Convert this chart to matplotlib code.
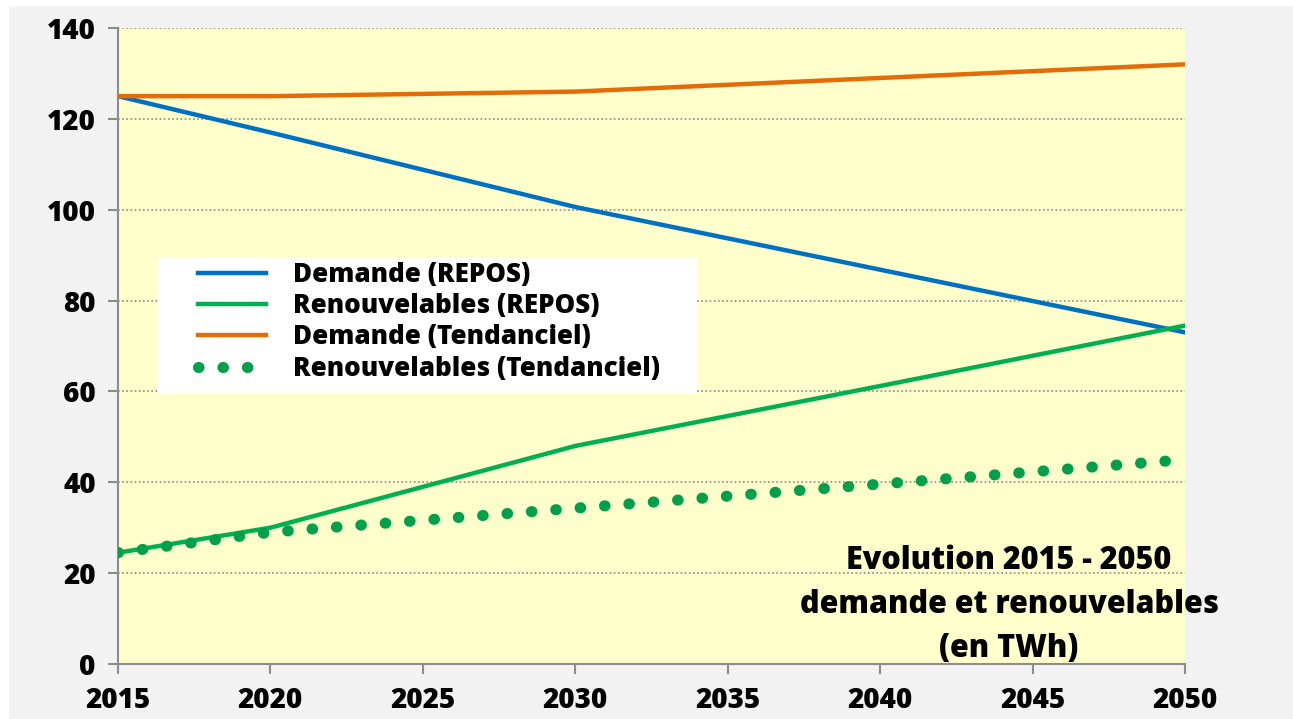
import matplotlib.pyplot as plt
from matplotlib.patches import Rectangle

# Données (TWh)
annees = [2015, 2020, 2030, 2040, 2050]
demande_repos = [125, 117, 100.6, 86.8, 73]
renouv_repos = [24.5, 30, 48, 61.2, 74.5]
demande_tend = [125, 125, 126, 129, 132]
renouv_tend = [24.5, 29, 34.3, 39.6, 45]

labels = ["Demande (REPOS)", "Renouvelables (REPOS)",
          "Demande (Tendanciel)", "Renouvelables (Tendanciel)"]

plt.rcParams['font.family'] = ['Open Sans', 'DejaVu Sans']
W = 800  # graisse du texte

fig = plt.figure(figsize=(12.93, 7.19), dpi=100)
fig.patch.set_facecolor("white")
fig.patches.append(Rectangle((9 / 1293, 0), 1, 713 / 719, transform=fig.transFigure,
                             facecolor="#F2F2F2", edgecolor="none", zorder=-10))

ax = fig.add_axes([118 / 1293, 55 / 719, 1067 / 1293, 636 / 719])
ax.set_facecolor("#FFFFCC")

ax.plot(annees, demande_repos, color="#0070C0", lw=3.2, label=labels[0], zorder=3)
ax.plot(annees, renouv_repos, color="#00B050", lw=3.2, label=labels[1], zorder=3)
ax.plot(annees, demande_tend, color="#E36C09", lw=3.2, label=labels[2], zorder=4)
ax.plot(annees, renouv_tend, color="#00A04A", lw=8, linestyle=(0, (0.05, 2.15)),
        dash_capstyle="round", label=labels[3], zorder=4)

ax.set_xlim(2015, 2050)
ax.set_ylim(0, 140)
ax.set_xticks(range(2015, 2051, 5))
ax.set_yticks(range(0, 141, 20))
ax.grid(axis="y", color="#8C8C8C", linestyle=(0, (1, 1.5)), lw=1.2)
ax.set_axisbelow(True)

for s in ["top", "right"]:
    ax.spines[s].set_visible(False)
for s in ["left", "bottom"]:
    ax.spines[s].set_color("#8C8C8C")
    ax.spines[s].set_linewidth(1.5)

ax.tick_params(axis="both", colors="#8C8C8C", labelcolor="black", width=1.5,
               length=7, labelsize=20)
ax.tick_params(axis="x", pad=9)
ax.tick_params(axis="y", pad=9)
for t in ax.get_xticklabels() + ax.get_yticklabels():
    t.set_fontweight(W)

# fond blanc de la légende
ax.add_patch(Rectangle((0.0375, 0.4261), 0.5051, 0.2139, transform=ax.transAxes,
                       facecolor="white", edgecolor="none", zorder=5))
leg = ax.legend(loc="upper left", bbox_to_anchor=(0.075, 0.632), fontsize=18.7,
                frameon=False, handlelength=2.6, handletextpad=1.05,
                borderpad=0, labelspacing=0.2, borderaxespad=0)
leg.set_zorder(6)
for t in leg.get_texts():
    t.set_fontweight(W)

ax.text(2044.23, 12.9, "Evolution 2015 - 2050\ndemande et renouvelables\n(en TWh)",
        ha="center", va="center", fontsize=22, fontweight=W,
        linespacing=1.5, clip_on=False, zorder=5)

fig.savefig("out.png", dpi=100)
